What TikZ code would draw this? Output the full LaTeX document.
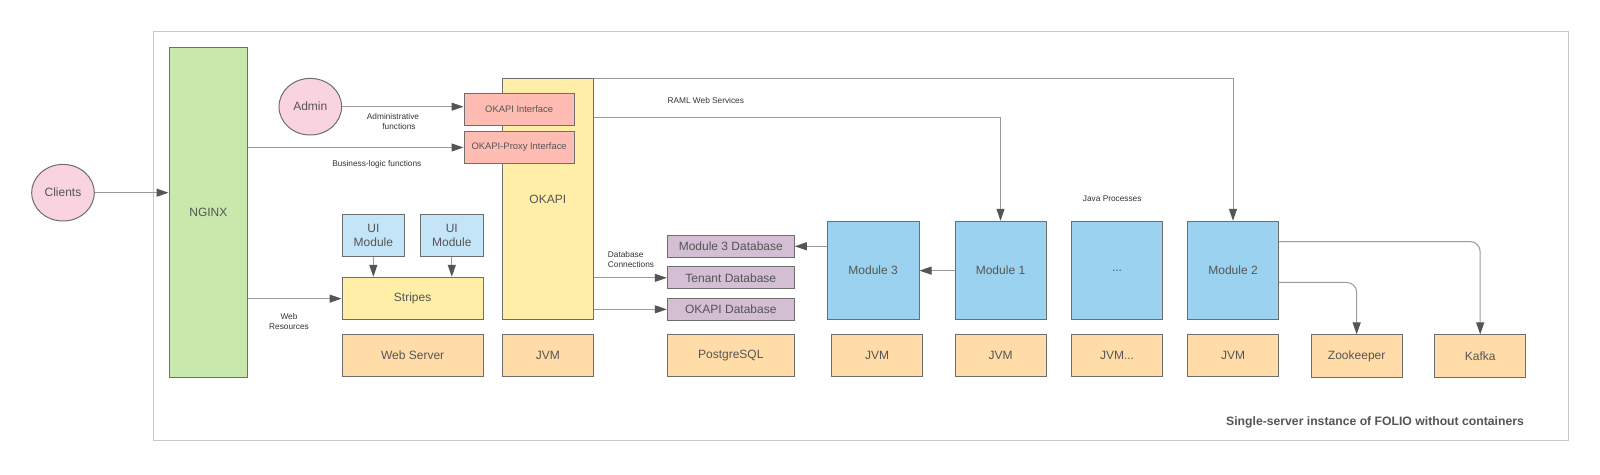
\documentclass[tikz,border=0pt]{standalone}
\usepackage{fontspec}
\setmainfont{Liberation Sans}
\usetikzlibrary{arrows.meta,calc,shapes.geometric}
\definecolor{nginxgreen}{HTML}{C8E8AC}
\definecolor{pinkc}{HTML}{F9D3E0}
\definecolor{okyellow}{HTML}{FFEEA8}
\definecolor{salmon}{HTML}{FFBCB3}
\definecolor{uiblue}{HTML}{C4E5F7}
\definecolor{modblue}{HTML}{9BD2EF}
\definecolor{dbpurple}{HTML}{D3BED3}
\definecolor{orangec}{HTML}{FFDCA8}
\definecolor{bordergray}{HTML}{6E6E6E}
\definecolor{linegray}{HTML}{9A9A9A}
\definecolor{headgray}{HTML}{555555}
\definecolor{txtgray}{HTML}{555555}
\definecolor{smalltxt}{HTML}{333333}
\definecolor{framegray}{HTML}{C8C8C8}
\begin{document}
\begin{tikzpicture}[x=0.5pt,y=-0.5pt,
  box/.style={draw=bordergray, line width=0.5pt, inner sep=0pt, align=center,
    font=\fontsize{6}{7.3}\selectfont, text=txtgray},
  oval/.style={box, ellipse, fill=pinkc, minimum width=31.3pt, minimum height=28.3pt},
  iface/.style={box, fill=salmon, minimum width=55.15pt, minimum height=15.6pt,
    font=\fontsize{4.7}{5.6}\selectfont},
  uimod/.style={box, fill=uiblue, minimum height=21.2pt},
  dbbox/.style={box, fill=dbpurple, minimum width=63.5pt, minimum height=10.9pt},
  modbox/.style={box, fill=modblue, minimum width=45.6pt, minimum height=49.35pt},
  basebox/.style={box, fill=orangec, minimum width=45.5pt, minimum height=21.25pt},
  lbl/.style={inner sep=0pt, align=center, text=smalltxt, font=\fontsize{4.15}{5}\selectfont},
  conn/.style={draw=linegray, line width=0.5pt,
    -{Triangle[length=6pt,width=4pt,color=headgray]}},
  rconn/.style={conn, rounded corners=5pt}
]
\useasboundingbox (0,0) rectangle (1600,475);

% outer frame
\node[draw=framegray, fill=white, line width=0.5pt, minimum width=707.5pt,
  minimum height=204.15pt, inner sep=0pt] (frame) at (860.8,235.85) {};
\node[inner sep=0pt, text=txtgray, font=\fontsize{6.1}{7}\selectfont\bfseries]
  (caption) at (1375,422.3) {Single-server instance of FOLIO without containers};

% left side
\node[oval] (clients) at (63,192.7) {Clients};
\node[box, fill=nginxgreen, minimum width=39.35pt, minimum height=165pt] (nginx) at (208.35,212.3) {NGINX};
\node[oval] (admin) at (310.3,106.7) {Admin};

% OKAPI
\node[box, fill=okyellow, minimum width=45.5pt, minimum height=120.85pt] (okapi) at (547.8,199.15) {OKAPI};
\node[iface] (okint) at (519.15,109.5) {OKAPI Interface};
\node[iface, minimum height=15.8pt] (okproxy) at (519.15,147.5) {OKAPI-Proxy Interface};

% UI
\node[uimod, minimum width=31.35pt] (ui1) at (373.35,235.5) {UI\\Module};
\node[uimod, minimum width=31.5pt] (ui2) at (451.8,235.5) {UI\\Module};
\node[box, fill=okyellow, minimum width=70.65pt, minimum height=21.35pt] (stripes) at (412.65,298.65) {Stripes};

% databases
\node[dbbox, minimum height=11pt] (m3db) at (730.8,246.3) {Module 3 Database};
\node[dbbox] (tenantdb) at (730.8,277.85) {Tenant Database};
\node[dbbox] (okdb) at (730.8,309.35) {OKAPI Database};

% modules
\node[modbox, minimum width=45.85pt] (m3) at (873.15,270.65) {Module 3};
\node[modbox, minimum width=45.5pt] (m1) at (1000.5,270.65) {Module 1};
\node[modbox, minimum width=45.3pt] (mdots) at (1117,270.65) {...};
\node[modbox, minimum width=45.7pt] (m2) at (1233,270.65) {Module 2};

% base row
\node[basebox, minimum width=70.65pt, minimum height=21.2pt] (websrv) at (412.65,355.5) {Web Server};
\node[basebox, minimum height=21.2pt] (okjvm) at (547.8,355.5) {JVM};
\node[basebox, minimum width=63.5pt, minimum height=21.2pt] (pg) at (730.8,355.5) {PostgreSQL};
\node[basebox] (m3jvm) at (877.2,355.65) {JVM};
\node[basebox] (m1jvm) at (1000.5,355.65) {JVM};
\node[basebox, minimum width=45.3pt] (dotsjvm) at (1117,355.65) {JVM...};
\node[basebox, minimum width=45.7pt] (m2jvm) at (1233,355.65) {JVM};
\node[basebox, minimum width=45.65pt] (zk) at (1356.65,356.15) {Zookeeper};
\node[basebox] (kafka) at (1480.2,356.15) {Kafka};

% labels
\node[lbl] (admlbl) at (393,121.7) {Administrative\\\hspace*{6pt}functions};
\node[lbl] (buslbl) at (376.8,164) {Business-logic functions};
\node[lbl] (webres) at (289,321.7) {Web\\Resources};
\node[lbl] (raml) at (705.8,101) {RAML Web Services};
\node[lbl, align=left] (dbconn) at (631,259.2) {Database\\Connections};
\node[lbl] (javap) at (1112.2,199) {Java Processes};

% connectors
\draw[conn] (clients.east) -- (clients.east -| nginx.west);
\draw[conn] (admin.east) -- (admin.east -| okint.west);
\draw[conn] (nginx.east |- okproxy.west) -- (okproxy.west);
\draw[conn] (nginx.east |- stripes.west) -- (stripes.west);
\draw[conn] (ui1.south) -- (ui1.south |- stripes.north);
\draw[conn] (ui2.south) -- (ui2.south |- stripes.north);
\draw[conn] ([yshift=-0.5pt]okapi.north east) -| (m2.north);
\draw[conn] ([yshift=-19.7pt]okapi.north east) -| (m1.north);
\draw[conn] (okapi.east |- tenantdb.west) -- (tenantdb.west);
\draw[conn] (okapi.east |- okdb.west) -- (okdb.west);
\draw[conn] (m3.west |- m3db.east) -- (m3db.east);
\draw[conn] (m1.west) -- (m3.east);
\draw[rconn] ([yshift=14.5pt]m2.east) -| (kafka.north);
\draw[rconn] ([yshift=-5.9pt]m2.east) -| (zk.north);
\end{tikzpicture}
\end{document}
